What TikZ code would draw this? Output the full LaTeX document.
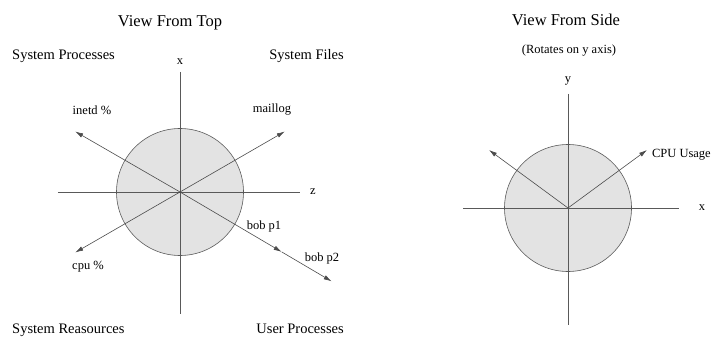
\documentclass[tikz,border=0pt]{standalone}
\usepackage{fontspec}
\setmainfont{Liberation Serif}
\usetikzlibrary{arrows.meta}
\tikzset{
  axis/.style={draw=black!65, line width=0.6pt},
  vec/.style={draw=black!70, line width=0.6pt, -{Latex[length=8pt,width=4.5pt]}},
  disc/.style={draw=black!65, fill=black!11, line width=0.6pt},
  lbl/.style={font=\fontsize{12.5}{14}\selectfont},
  corner/.style={font=\fontsize{14.5}{17}\selectfont, inner sep=0pt},
  heading/.style={font=\fontsize{16.5}{19}\selectfont, inner sep=0pt},
}
\begin{document}
\begin{tikzpicture}[x=1pt, y=1pt]
    \useasboundingbox (-180,-145) rectangle (531,192);
    % view from top
    \node[heading, anchor=base] (toptitle) at (-10,165) {View From Top};
    \coordinate (o) at (0,0);
    \draw[disc] (o) circle (63.5);
    \coordinate (xa) at (0,120);
    \coordinate (xb) at (0,-122);
    \coordinate (za) at (-122,0);
    \coordinate (zb) at (120,0);
    \draw[axis] (xa) -- (xb);
    \draw[axis] (za) -- (zb);
    \node[lbl] (xlab) at (0,130) {x};
    \node[lbl] (zlab) at (133,0) {z};
    \coordinate (inetd) at (150:121);
    \coordinate (maillog) at (30:121);
    \coordinate (cpu) at (210:121);
    \coordinate (bobone) at (-30.5:118);
    \coordinate (bobtwo) at (-30.5:176);
    \foreach \t in {inetd,maillog,cpu,bobone} {
      \draw[vec] (o) -- (\t);
    }
    \draw[vec] (bobone) -- (bobtwo);
    \node[lbl] (inetdlab) at (-88,82) {inetd \%};
    \node[lbl] (maillab) at (92,82) {maillog};
    \node[lbl] (cpulab) at (-92,-75) {cpu \%};
    \node[lbl] (bobonelab) at (84,-34) {bob p1};
    \node[lbl] (bobtwolab) at (142,-66) {bob p2};
    \node[corner, anchor=base west] (sysproc) at (-168,132.5) {System Processes};
    \node[corner, anchor=base east] (sysfiles) at (164,132.5) {System Files};
    \node[corner, anchor=base west] (sysres) at (-168,-141.5) {System Reasources};
    \node[corner, anchor=base east] (userproc) at (164,-141.5) {User Processes};
    % view from side
    \begin{scope}[shift={(388,-16)}]
      \node[heading, anchor=base] (sidetitle) at (-2,182) {View From Side};
      \node[lbl, anchor=base, inner sep=0pt] (rotnote) at (1,154) {(Rotates on y axis)};
      \coordinate (c) at (0,0);
      \draw[disc] (c) circle (63.5);
      \coordinate (ya) at (0,114);
      \coordinate (yb) at (0,-117);
      \coordinate (sa) at (-105,0);
      \coordinate (sb) at (111,0);
      \draw[axis] (ya) -- (yb);
      \draw[axis] (sa) -- (sb);
      \node[lbl] (ylab) at (0,127) {y};
      \node[lbl] (sxlab) at (134,0) {x};
      \coordinate (lefttip) at (143.7:98);
      \coordinate (cputip) at (36.3:98);
      \draw[vec] (c) -- (lefttip);
      \draw[vec] (c) -- (cputip);
      \node[lbl, anchor=east, inner sep=0pt] (cpulab2) at (143,53) {CPU Usage};
    \end{scope}
\end{tikzpicture}
\end{document}
